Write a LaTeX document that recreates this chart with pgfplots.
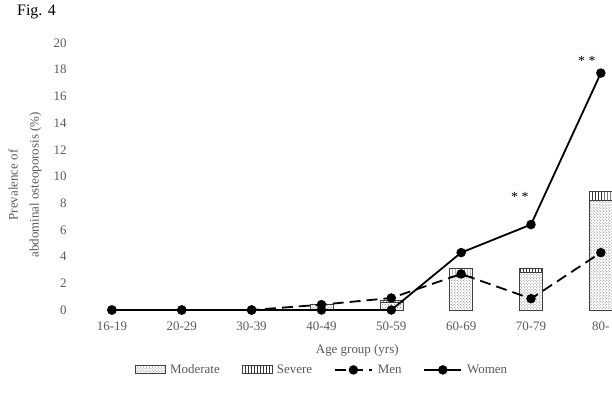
\documentclass[border=0pt]{standalone}
\usepackage{fontspec}
\setmainfont{Liberation Serif}
\usepackage{pgfplots}
\pgfplotsset{compat=1.18}
\usetikzlibrary{patterns}
\pgfplotsset{
    boxlegend/.style={legend image code/.code={\draw[##1] (0cm,-0.12cm) rectangle (1.05cm,0.17cm);}},
    longline/.style={legend image code/.code={\draw[mark repeat=2, mark phase=2, ##1]
        plot coordinates {(0cm,0cm) (0.65cm,0cm) (1.3cm,0cm)};}},
}

\begin{document}
\begin{tikzpicture}[x=1bp,y=1bp]
\path[use as bounding box] (0,0) rectangle (612,-403);
\node[anchor=north west, font=\fontsize{16}{18}\selectfont, inner sep=0pt] at (17,-5) {Fig. 4};
\begin{axis}[
    at={(70bp,-318bp)}, anchor=south west,
    scale only axis, width=542bp, height=279bp,
    xmin=-0.6, xmax=7.16, ymin=-0.6, ymax=20.3,
    axis x line*=bottom, axis y line*=left,
    axis line style={draw=none},
    tick style={draw=none},
    xtick={0,...,7},
    xticklabels={16-19,20-29,30-39,40-49,50-59,60-69,70-79,80-},
    ytick={0,2,...,20},
    /pgf/number format/assume math mode=true,
    ticklabel style={font=\fontsize{13}{15}\selectfont, text=black!65},
    xlabel={Age group (yrs)},
    xlabel style={at={(rel axis cs:0.53,-0.115)}, anchor=center,
        font=\fontsize{13}{15}\selectfont, text=black!65},
    ylabel={Prevalence of\\abdominal osteoporosis (\%)},
    ylabel style={at={(axis description cs:-0.083,0.477)}, anchor=center, align=center,
        font=\fontsize{13}{21}\selectfont, text=black!65},
    legend style={at={(rel axis cs:0.465,-0.186)}, anchor=center, legend columns=4,
        draw=none, font=\fontsize{13}{15}\selectfont, text=black!65,
        /tikz/every odd column/.style={column sep=3bp},
        /tikz/every even column/.style={column sep=20bp}},
]
% bars: total (severe on top) then moderate over it
\addplot[ybar, bar width=23bp, bar shift=0pt, draw=black!75, pattern=vertical lines,
    pattern color=black!80, forget plot]
    coordinates {(3,0.4) (4,0.7) (5,3.15) (6,3.1) (7,8.9)};
\addplot[ybar, bar width=23bp, bar shift=0pt, draw=black!75, fill=white,
    postaction={pattern=crosshatch dots, pattern color=black!55}, forget plot]
    coordinates {(3,0.4) (4,0.6) (5,2.5) (6,2.85) (7,8.2)};

\addlegendimage{boxlegend, draw=black!75, pattern=crosshatch dots, pattern color=black!55}
\addlegendentry{Moderate}
\addlegendimage{boxlegend, draw=black!75, pattern=vertical lines, pattern color=black!80}
\addlegendentry{Severe}

\addplot[longline, black, line width=1.8bp, dash pattern=on 11bp off 6bp, mark=*,
    mark size=3.8bp, mark options={solid}]
    coordinates {(0,0) (1,0) (2,0) (3,0.4) (4,0.9) (5,2.7) (6,0.85) (7,4.3)};
\addlegendentry{Men}
\addplot[longline, black, line width=1.8bp, mark=*, mark size=3.8bp]
    coordinates {(0,0) (1,0) (2,0) (3,0) (4,0) (5,4.3) (6,6.4) (7,17.75)};
\addlegendentry{Women}

\node[font=\fontsize{14}{15}\selectfont] at (axis cs:5.84,8.5) {* *};
\node[font=\fontsize{14}{15}\selectfont] at (axis cs:6.8,18.65) {* *};
\end{axis}
\end{tikzpicture}
\end{document}
